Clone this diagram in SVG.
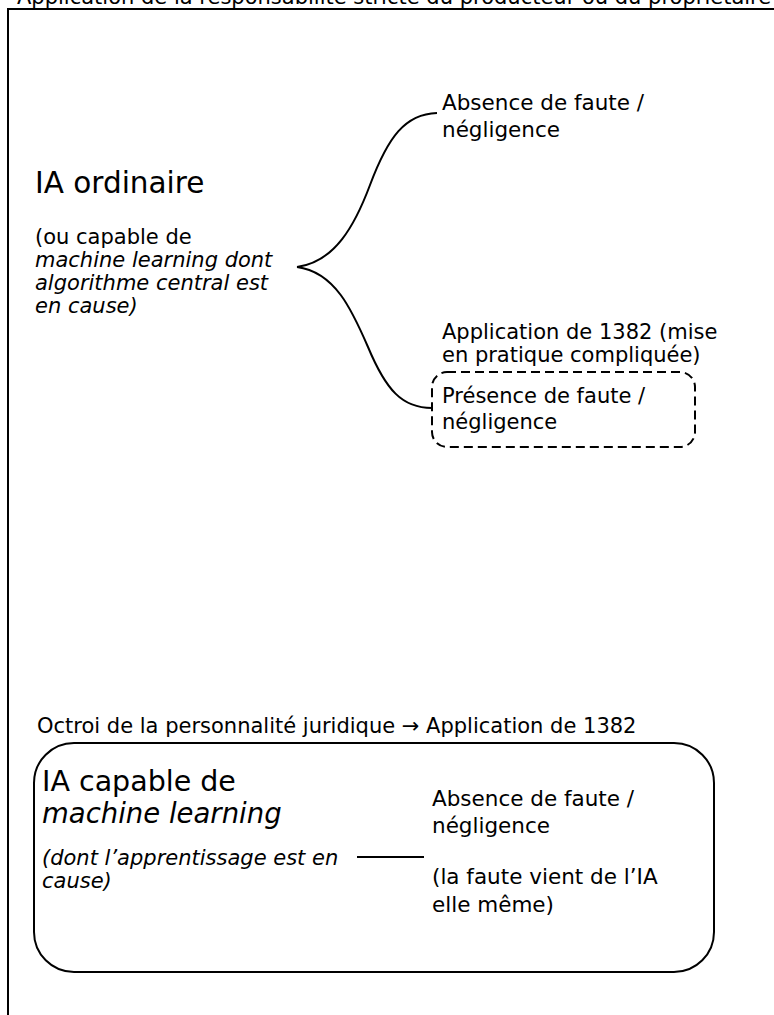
<svg xmlns="http://www.w3.org/2000/svg" width="774" height="1015" viewBox="0 0 774 1015">
<style>
text{font-family:"DejaVu Sans","Liberation Sans",sans-serif;fill:#000}
.big{font-size:28.5px}
.mid{font-size:21.5px}
.sm{font-size:21px}
.it{font-style:italic}
.ln{fill:none;stroke:#000;stroke-width:2}
.dash{fill:none;stroke:#000;stroke-width:2;stroke-dasharray:9 5}
</style>
<rect width="774" height="1015" fill="#fff"/>
<g id="frame">
<text class="sm" x="17" y="4">Application de la responsabilité stricte du producteur ou du propriétaire</text>
<path class="ln" d="M8,1016 V9 H776"/>
</g>
<g id="ia-ordinaire">
<text class="big" x="35" y="193" style="font-size:29.5px">IA ordinaire</text>
<text class="sm" x="35" y="244">(ou capable de</text>
<text class="sm it" x="35" y="267">machine learning dont</text>
<text class="sm it" x="35" y="290">algorithme central est</text>
<text class="sm it" x="35" y="313">en cause)</text>
</g>
<g id="absence-1">
<text class="mid" x="442" y="110">Absence de faute /</text>
<text class="mid" x="442" y="137">négligence</text>
</g>
<g id="presence">
<text class="sm" x="442" y="339">Application de 1382 (mise</text>
<text class="sm" x="442" y="362">en pratique compliquée)</text>
<rect class="dash" x="432" y="372" width="263" height="75" rx="15"/>
<text class="sm" x="442" y="403">Présence de faute /</text>
<text class="sm" x="442" y="429">négligence</text>
</g>
<g id="ia-ml">
<text class="sm" x="37" y="733">Octroi de la personnalité juridique → Application de 1382</text>
<rect class="ln" x="34" y="743" width="680" height="229" rx="40"/>
<text class="big" x="42" y="791">IA capable de</text>
<text class="big it" x="42" y="823" style="font-size:27.5px">machine learning</text>
<text class="sm it" x="42" y="865">(dont l’apprentissage est en</text>
<text class="sm it" x="42" y="888">cause)</text>
<text class="mid" x="432" y="806">Absence de faute /</text>
<text class="mid" x="432" y="833">négligence</text>
<text class="mid" x="432" y="884">(la faute vient de l’IA</text>
<text class="mid" x="432" y="912">elle même)</text>
</g>
<g id="connectors">
<path class="ln" d="M297,267 C335,262 355,225 370,185 C388,137 405,114 437,113"/>
<path class="ln" d="M297,267 C335,272 352,310 368,347 C386,390 402,408 432,408"/>
<path class="ln" d="M357,857 H424" stroke-width="1.5"/>
</g>
</svg>
